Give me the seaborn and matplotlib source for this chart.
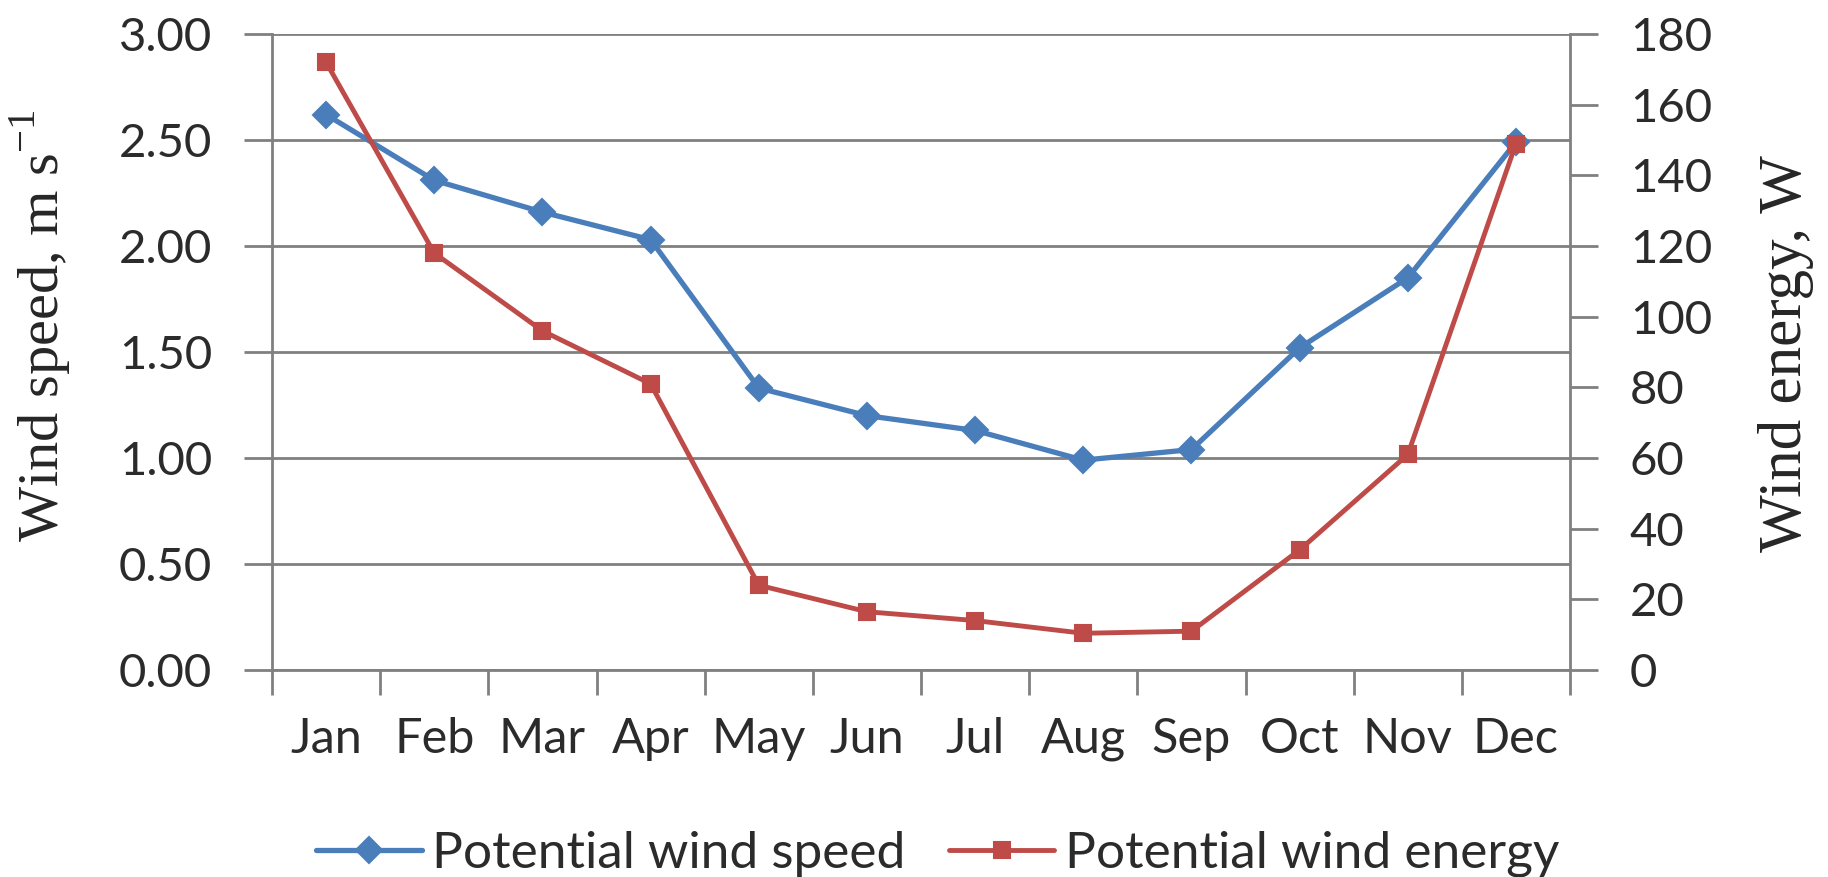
import matplotlib
matplotlib.use("Agg")
import matplotlib.pyplot as plt
import numpy as np
import pandas as pd
import seaborn as sns

# data
months = ["Jan", "Feb", "Mar", "Apr", "May", "Jun", "Jul", "Aug", "Sep", "Oct", "Nov", "Dec"]
wind_speed = [2.62, 2.31, 2.16, 2.03, 1.33, 1.20, 1.13, 0.99, 1.04, 1.52, 1.85, 2.49]
wind_energy = [172, 118, 96, 81, 24, 16.5, 14, 10.4, 11, 34, 61, 149]

speed_ticks = [0, 0.5, 1.0, 1.5, 2.0, 2.5, 3.0]
energy_ticks = list(range(0, 181, 20))

BLUE = "#4A7EBB"
RED = "#BE4B48"
GRID = "#808080"
TXT = "#2b2b2b"

sns.set_theme(style="white")
plt.rcParams["font.family"] = ["Lato", "DejaVu Sans"]
plt.rcParams["mathtext.fontset"] = "custom"
plt.rcParams["mathtext.rm"] = "Liberation Serif"
plt.rcParams["text.color"] = TXT
plt.rcParams["xtick.color"] = TXT
plt.rcParams["ytick.color"] = TXT

df = pd.DataFrame({"month": months, "speed": wind_speed, "energy": wind_energy})

fig = plt.figure(figsize=(18.28, 8.77), dpi=100)
ax = fig.add_axes([0.1488, 0.236, 0.8589 - 0.1488, 0.9612 - 0.236])

sns.lineplot(data=df, x="month", y="speed", ax=ax, sort=False, color=BLUE,
             marker="D", markersize=13, markeredgecolor=BLUE, markeredgewidth=1.5,
             linewidth=3.8, label="Potential wind speed", legend=False)

ax2 = ax.twinx()
sns.lineplot(data=df, x="month", y="energy", ax=ax2, sort=False, color=RED,
             marker="s", markersize=12, markeredgecolor=RED, markeredgewidth=1.5,
             linewidth=3.5, label="Potential wind energy", legend=False)

# x axis: tick marks between categories, labels at the centres
ax.set_xlim(-0.5, 11.5)
ax.set_xticks(np.arange(-0.5, 12, 1))
ax.set_xticklabels([""] * 13)
ax.set_xticks(np.arange(12), minor=True)
ax.set_xticklabels(months, minor=True, fontsize=35)
ax.tick_params(axis="x", which="major", direction="out", length=18, width=2, color=GRID, bottom=True)
ax.tick_params(axis="x", which="minor", length=0, pad=34, bottom=True)

ax.set_ylim(0, 3.0)
ax.set_yticks(speed_ticks)
ax.set_yticklabels([f"{v:.2f}" for v in speed_ticks], fontsize=34)
ax.tick_params(axis="y", direction="out", length=20, width=2, color=GRID, pad=23, left=True)
ax.yaxis.grid(True, color=GRID, linewidth=2)
ax.set_axisbelow(True)

ax2.set_ylim(0, 180)
ax2.set_yticks(energy_ticks)
ax2.set_yticklabels([str(v) for v in energy_ticks], fontsize=34)
ax2.tick_params(axis="y", direction="out", length=20, width=2, color=GRID, pad=23, right=True)
ax2.grid(False)

for a in (ax, ax2):
    a.spines["top"].set_visible(False)
    for s in ("left", "right", "bottom"):
        a.spines[s].set_color(GRID)
        a.spines[s].set_linewidth(2)
ax.spines["right"].set_visible(False)
ax2.spines["left"].set_visible(False)
ax2.spines["bottom"].set_visible(False)

ax.set_xlabel("")
ax.set_ylabel(r"Wind speed, m s$^{\mathrm{-1}}$", fontsize=42, family="Liberation Serif")
ax2.set_ylabel("Wind energy, W", fontsize=44, family="Liberation Serif")
ax.yaxis.set_label_coords(-0.154, 0.541)
ax2.yaxis.set_label_coords(1.145, 0.497)

h1, l1 = ax.get_legend_handles_labels()
h2, l2 = ax2.get_legend_handles_labels()
fig.legend(h1 + h2, l1 + l2, loc="center", bbox_to_anchor=(0.513, 0.026), ncol=2,
           frameon=False, fontsize=37, handlelength=2.05, handletextpad=0.2,
           columnspacing=0.85, borderpad=0)

fig.savefig("out.png", dpi=100, facecolor="white")
